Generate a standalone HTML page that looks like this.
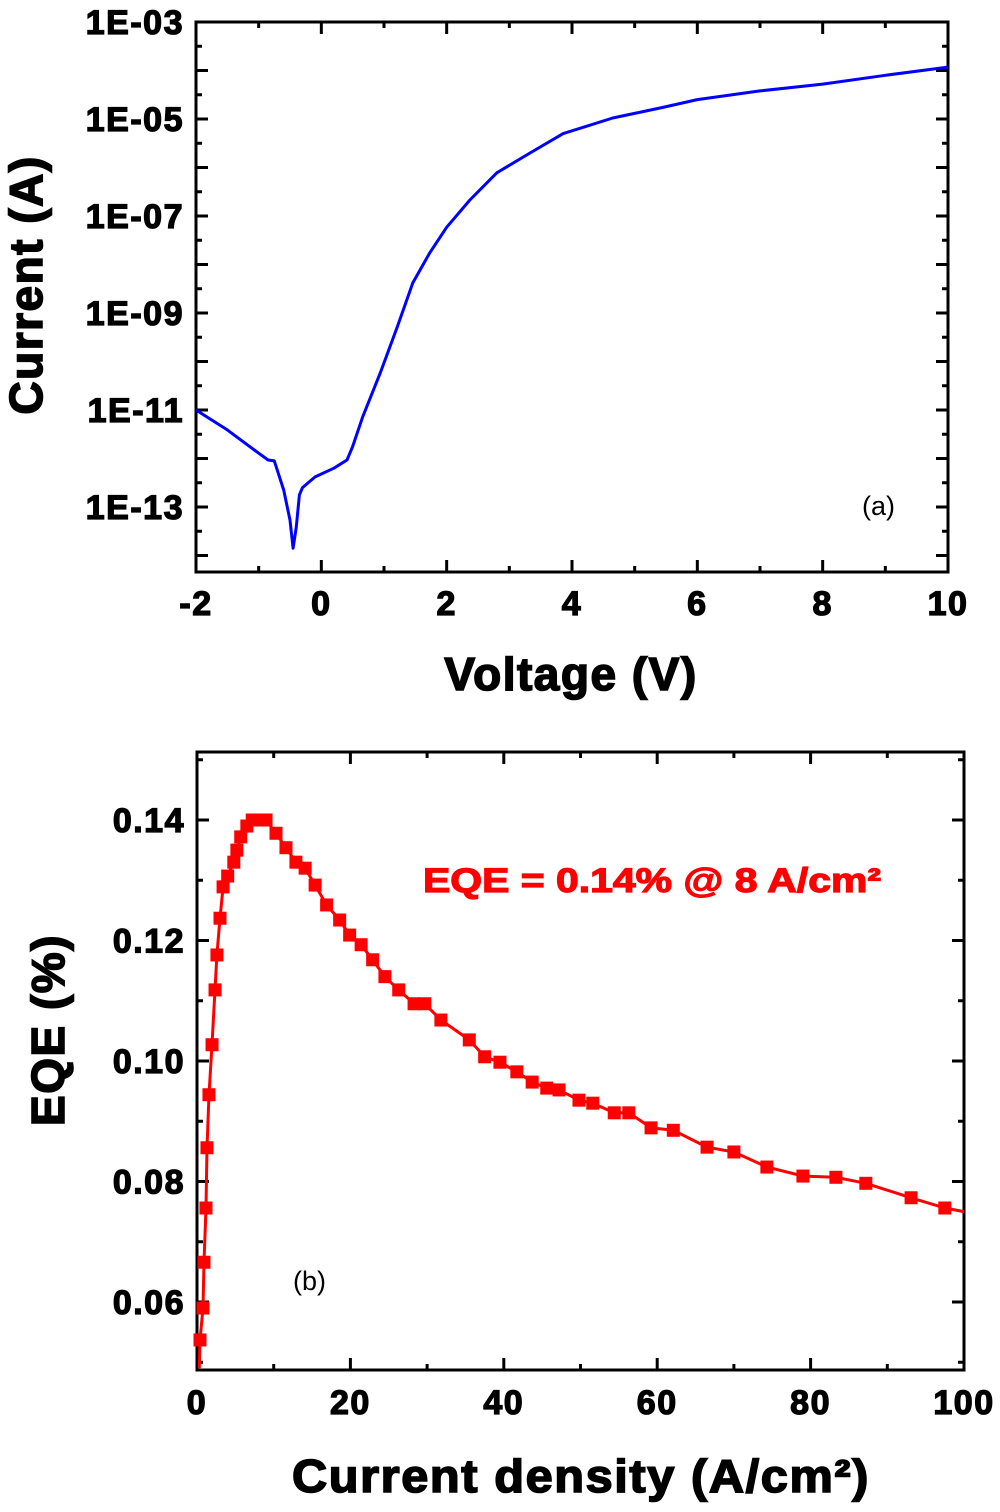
<!DOCTYPE html>
<html><head><meta charset="utf-8"><style>
body{margin:0;background:#fff}
svg text{font-family:"Liberation Sans",Arial,sans-serif}
.tk{font-size:34px;font-weight:bold;letter-spacing:1.5px;stroke:#000;stroke-width:1.3px}
.ti{font-size:46px;font-weight:bold;letter-spacing:1.5px;stroke:#000;stroke-width:1.6px}
</style></head><body>
<svg id="c" width="1000" height="1507" xmlns="http://www.w3.org/2000/svg"></svg>
<script>
// Panel (a) data
const ivVoltage=[-2,-1.5,-1,-0.85,-0.75,-0.6,-0.5,-0.45,-0.4,-0.35,-0.3,-0.1,0.2,0.41,0.5,0.66,0.94,1.21,1.46,1.73,2.0,2.37,2.8,3.33,3.86,4.65,5.45,6,7,8,9,10];
const ivLogCurrent=[-11,-11.41,-11.89,-12.03,-12.05,-12.65,-13.27,-13.85,-13.41,-12.75,-12.6,-12.38,-12.2,-12.03,-11.75,-11.14,-10.24,-9.29,-8.38,-7.76,-7.23,-6.67,-6.11,-5.7,-5.3,-4.98,-4.76,-4.6,-4.42,-4.28,-4.1,-3.93];
const ivXTicks=[-2,0,2,4,6,8,10];
const ivYTickLabels=["1E-03","1E-05","1E-07","1E-09","1E-11","1E-13"];
const ivYTickExp=[-3,-5,-7,-9,-11,-13];
// Panel (b) data
const eqeJ=[0.39,0.78,0.91,1.17,1.3,1.56,1.96,2.35,2.6,3.0,3.4,4.0,4.8,5.2,5.7,6.5,7.2,8.2,9.0,10.3,11.6,12.9,14.1,15.4,16.9,18.6,19.9,21.4,22.9,24.5,26.3,28.3,29.7,31.8,35.5,37.5,39.5,41.7,43.7,45.6,47.2,49.8,51.6,54.4,56.3,59.2,62.1,66.5,70.0,74.3,79.0,83.3,87.2,93.1,97.5];
const eqeVal=[0.0537,0.059,0.0666,0.0756,0.0856,0.0944,0.1027,0.1118,0.1176,0.1237,0.1289,0.1307,0.133,0.135,0.1372,0.139,0.14,0.14,0.14,0.1378,0.1354,0.133,0.132,0.1292,0.1259,0.1234,0.1209,0.1193,0.1168,0.114,0.1118,0.1095,0.1095,0.1068,0.1035,0.1007,0.0998,0.0982,0.0965,0.0955,0.0952,0.0935,0.093,0.0914,0.0914,0.0889,0.0885,0.0857,0.0849,0.0824,0.0809,0.0807,0.0797,0.0773,0.0756];
const eqeXTicks=[0,20,40,60,80,100];
const eqeYTicks=[0.06,0.08,0.10,0.12,0.14];

const svg=document.getElementById('c');
const NS='http://www.w3.org/2000/svg';
function mk(tag,a,parent){const e=document.createElementNS(NS,tag);for(const k in a)e.setAttribute(k,a[k]);(parent||svg).appendChild(e);return e;}
function txt(s,a){const e=mk('text',a);e.textContent=s;return e;}

// ---- Panel A ----
const A={l:196,r:948,t:22,b:572};
const ax=v=>A.l+(v+2)/12*(A.r-A.l);
const ay=e=>A.t+(-3-e)*48.5;
const gA=mk('g',{});


for(let v=-2;v<=10;v+=1){const L=(v%2===0)?12:6;const x=ax(v);
 mk('line',{x1:x,y1:A.b,x2:x,y2:A.b-L,stroke:'#000','stroke-width':3},gA);
 mk('line',{x1:x,y1:A.t,x2:x,y2:A.t+L,stroke:'#000','stroke-width':3},gA);}
for(let e=-3;e>=-14.3;e-=0.5){const y=ay(e);if(y>A.b)break;const L=(Math.abs(e%1)<0.01)?12:6;
 mk('line',{x1:A.l,y1:y,x2:A.l+L,y2:y,stroke:'#000','stroke-width':3},gA);
 mk('line',{x1:A.r,y1:y,x2:A.r-L,y2:y,stroke:'#000','stroke-width':3},gA);}
mk('rect',{x:A.l,y:A.t,width:A.r-A.l,height:A.b-A.t,fill:'none',stroke:'#000','stroke-width':3},gA);
ivXTicks.forEach(v=>{const t=txt(v,{x:ax(v),y:615,'text-anchor':'middle','class':'tk'});
 });
ivYTickExp.forEach((e,i)=>{const t=txt(ivYTickLabels[i],{x:184,y:ay(e)+12,'text-anchor':'end','class':'tk'});
 });
let p=ivVoltage.map((v,i)=>(i?'L':'M')+ax(v).toFixed(1)+','+ay(ivLogCurrent[i]).toFixed(1)).join('');
const ivLine=mk('path',{d:p,fill:'none',stroke:'#0000ff','stroke-width':3,'stroke-linejoin':'round'});

let t=txt('Voltage (V)',{x:571,y:690,'text-anchor':'middle','class':'ti'});

t=txt('Current (A)',{x:0,y:0,'text-anchor':'middle','class':'ti',transform:'translate(42,285) rotate(-90)'});

t=txt('(a)',{x:862,y:515,'font-size':27});


// ---- Panel B ----
const B={l:197,r:964,t:752,b:1370};
const bx=v=>B.l+v/100*(B.r-B.l);
const by=v=>820+(0.14-v)*6025;
const gB=mk('g',{});


for(let v=0;v<=100;v+=10){const L=(v%20===0)?12:6;const x=bx(v);
 mk('line',{x1:x,y1:B.b,x2:x,y2:B.b-L,stroke:'#000','stroke-width':3},gB);
 mk('line',{x1:x,y1:B.t,x2:x,y2:B.t+L,stroke:'#000','stroke-width':3},gB);}
for(let k=5;k<=15;k++){const v=k/100;const y=by(v);if(y<B.t||y>B.b)continue;const L=(k%2===0)?12:6;
 mk('line',{x1:B.l,y1:y,x2:B.l+L,y2:y,stroke:'#000','stroke-width':3},gB);
 mk('line',{x1:B.r,y1:y,x2:B.r-L,y2:y,stroke:'#000','stroke-width':3},gB);}
mk('rect',{x:B.l,y:B.t,width:B.r-B.l,height:B.b-B.t,fill:'none',stroke:'#000','stroke-width':3},gB);
eqeXTicks.forEach(v=>{const t=txt(v,{x:bx(v),y:1414,'text-anchor':'middle','class':'tk'});
 });
eqeYTicks.forEach(v=>{const t=txt(v.toFixed(2),{x:185,y:by(v)+12,'text-anchor':'end','class':'tk'});
 });
p='M'+bx(0.3)+','+by(0.049)+eqeJ.map((v,i)=>'L'+bx(v).toFixed(1)+','+by(eqeVal[i]).toFixed(1)).join('')+'L'+bx(100)+','+by(0.075);
const eqeLine=mk('path',{d:p,fill:'none',stroke:'#ff0000','stroke-width':3,'stroke-linejoin':'round'});

eqeJ.forEach((v,i)=>{const m=mk('rect',{x:bx(v)-6.5,y:by(eqeVal[i])-6.5,width:13,height:13,fill:'#ff0000'});
 });
t=txt('Current density (A/cm²)',{x:581,y:1492,'text-anchor':'middle','class':'ti','textLength':578,'lengthAdjust':'spacingAndGlyphs'});

t=txt('EQE (%)',{x:0,y:0,'text-anchor':'middle','class':'ti',transform:'translate(64,1030) rotate(-90)'});

t=txt('EQE = 0.14% @ 8 A/cm²',{x:423,y:892,'font-size':34,'font-weight':'bold',fill:'#ff0000',stroke:'#ff0000','stroke-width':1.2,'textLength':458,'lengthAdjust':'spacingAndGlyphs'});

t=txt('(b)',{x:293,y:1290,'font-size':27});

</script>
</body></html>
